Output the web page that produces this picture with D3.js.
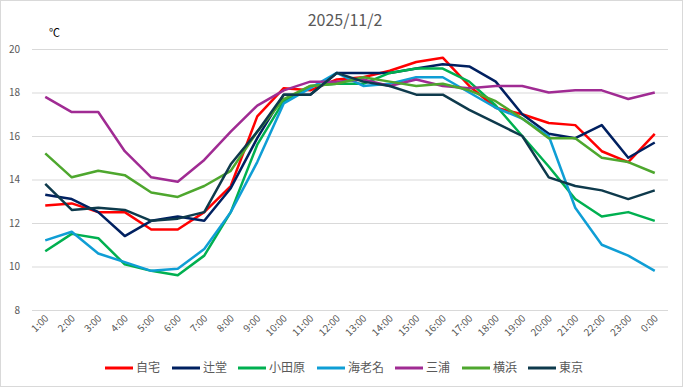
<!DOCTYPE html>
<html>
<head>
<meta charset="utf-8">
<script src="https://cdn.jsdelivr.net/npm/d3@7"></script>
<style>
  body { margin: 0; background: #fff; }
  text { font-family: "Noto Sans CJK JP", "Liberation Sans", sans-serif; }
</style>
</head>
<body>
<svg id="chart" width="683" height="387"></svg>
<script>
// hours on the x axis
const hours = ["1:00","2:00","3:00","4:00","5:00","6:00","7:00","8:00","9:00","10:00","11:00","12:00",
  "13:00","14:00","15:00","16:00","17:00","18:00","19:00","20:00","21:00","22:00","23:00","0:00"];

// temperatures per station
const jitaku   = [12.8,12.9,12.5,12.5,11.7,11.7,12.5,13.7,16.9,18.2,18.1,18.6,18.7,19.0,19.4,19.6,18.3,17.3,17.0,16.6,16.5,15.3,14.8,16.1];
const tsujido  = [13.3,13.1,12.5,11.4,12.1,12.3,12.1,13.6,15.9,17.9,17.9,18.9,18.9,18.9,19.1,19.3,19.2,18.5,17.0,16.1,15.9,16.5,15.0,15.7];
const odawara  = [10.7,11.5,11.3,10.1,9.8,9.6,10.5,12.5,15.6,17.6,18.3,18.4,18.4,18.9,19.1,19.1,18.5,17.4,16.0,14.6,13.1,12.3,12.5,12.1];
const ebina    = [11.2,11.6,10.6,10.2,9.8,9.9,10.8,12.5,14.8,17.5,18.2,18.9,18.3,18.4,18.7,18.7,18.0,17.3,16.8,16.0,12.7,11.0,10.5,9.8];
const miura    = [17.8,17.1,17.1,15.3,14.1,13.9,14.9,16.2,17.4,18.1,18.5,18.5,18.6,18.3,18.6,18.3,18.2,18.3,18.3,18.0,18.1,18.1,17.7,18.0];
const yokohama = [15.2,14.1,14.4,14.2,13.4,13.2,13.7,14.4,16.2,17.7,18.3,18.4,18.7,18.5,18.3,18.4,18.1,17.6,16.8,15.9,15.9,15.0,14.8,14.3];
const tokyo    = [13.8,12.6,12.7,12.6,12.1,12.2,12.5,14.7,16.2,17.9,17.9,18.9,18.5,18.3,17.9,17.9,17.2,16.6,16.0,14.1,13.7,13.5,13.1,13.5];

const seriesNames = ["自宅","辻堂","小田原","海老名","三浦","横浜","東京"];
const seriesValues = [jitaku, tsujido, odawara, ebina, miura, yokohama, tokyo];
const colors = ["#ff0000","#002060","#00b050","#0f9ed5","#a02b93","#4ea72e","#0e3a4c"];
const yTicks = [8,10,12,14,16,18,20];

const svg = d3.select("#chart");
const W = 683, H = 387;
const plotLeft = 32, plotRight = 668, plotTop = 49, plotBottom = 310;

// chart frame
svg.append("rect")
  .attr("x", 0.5).attr("y", 0.5)
  .attr("width", W - 1).attr("height", H - 1)
  .attr("fill", "#fff").attr("stroke", "#d9d9d9");

const x = d3.scaleBand().domain(hours).range([plotLeft, plotRight]);
const y = d3.scaleLinear().domain([8, 20]).range([plotBottom, plotTop]);

// gridlines
svg.append("g")
  .selectAll("line")
  .data(yTicks)
  .join("line")
  .attr("x1", plotLeft).attr("x2", plotRight)
  .attr("y1", d => y(d) + 0.5).attr("y2", d => y(d) + 0.5)
  .attr("stroke", "#d9d9d9").attr("stroke-width", 1);

// y axis labels
svg.append("g")
  .selectAll("text")
  .data(yTicks)
  .join("text")
  .attr("x", 20).attr("y", d => y(d))
  .attr("dy", "0.35em")
  .attr("text-anchor", "end")
  .attr("font-size", 10)
  .attr("fill", "#595959")
  .text(d => d);

// x axis labels, rotated
svg.append("g")
  .selectAll("text")
  .data(hours)
  .join("text")
  .attr("transform", d => `translate(${x(d) + x.bandwidth() / 2 + 4},${plotBottom + 9}) rotate(-45)`)
  .attr("text-anchor", "end")
  .attr("font-size", 10)
  .attr("fill", "#595959")
  .text(d => d);

// lines
const line = d3.line()
  .x((d, i) => x(hours[i]) + x.bandwidth() / 2)
  .y(d => y(d));

svg.append("g")
  .selectAll("path")
  .data(seriesValues)
  .join("path")
  .attr("d", d => line(d))
  .attr("fill", "none")
  .attr("stroke", (d, i) => colors[i])
  .attr("stroke-width", 2.5)
  .attr("stroke-linejoin", "round");

// title and unit
svg.append("text")
  .attr("x", 345).attr("y", 26)
  .attr("text-anchor", "middle")
  .attr("font-size", 16)
  .attr("fill", "#595959")
  .text("2025/11/2");

svg.append("text")
  .attr("x", 49).attr("y", 37)
  .attr("font-size", 11)
  .attr("fill", "#000")
  .text("℃");

// legend
const legendX = [105, 172, 238, 317, 395, 462, 528];
const legend = svg.append("g")
  .selectAll("g")
  .data(seriesNames)
  .join("g")
  .attr("transform", (d, i) => `translate(${legendX[i]},368)`);

legend.append("line")
  .attr("x1", 0).attr("x2", 28)
  .attr("stroke", (d, i) => colors[i])
  .attr("stroke-width", 3);

legend.append("text")
  .attr("x", 31).attr("dy", "0.35em")
  .attr("font-size", 12)
  .attr("fill", "#595959")
  .text(d => d);
</script>
</body>
</html>
